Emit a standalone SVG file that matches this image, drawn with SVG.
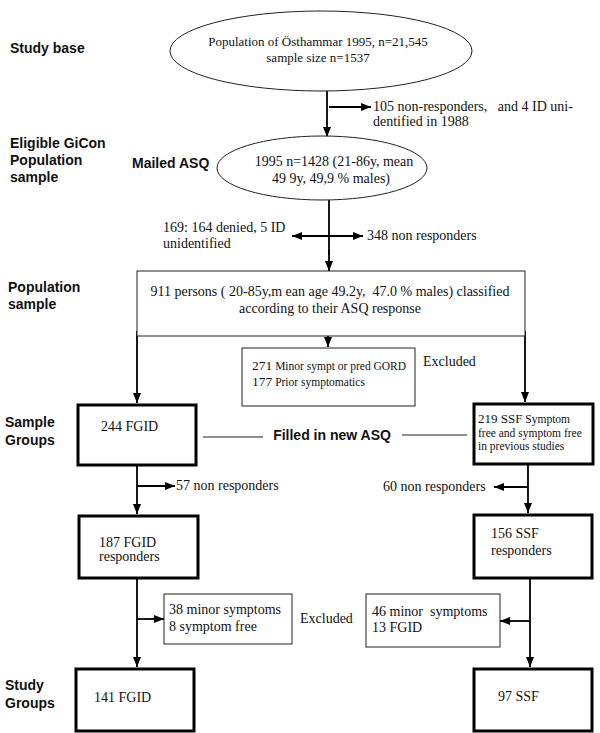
<svg xmlns="http://www.w3.org/2000/svg" width="600" height="733" viewBox="0 0 600 733">
<defs>
<marker id="ah" markerUnits="userSpaceOnUse" markerWidth="10" markerHeight="8" refX="10" refY="4" orient="auto">
<path d="M0,0 L10,4 L0,8 z" fill="#000"/>
</marker>
<style>
text{white-space:pre}
.lbl{font-family:"Liberation Sans",Arial,sans-serif;font-weight:bold;font-size:14px;fill:#111}
.t{font-family:"Liberation Serif","Times New Roman",serif;font-size:14px;fill:#111}
.e{font-family:"Liberation Serif","Times New Roman",serif;font-size:13px;fill:#111}
.s{font-family:"Liberation Serif","Times New Roman",serif;font-size:11.5px;fill:#111}
.thin{fill:#fff;stroke:#222;stroke-width:1}
.thick{fill:#fff;stroke:#000;stroke-width:3}
.c{stroke:#000;stroke-width:1.8;fill:none}
.ca{stroke:#000;stroke-width:1.8;fill:none;marker-end:url(#ah)}
.ln{stroke:#222;stroke-width:1;fill:none}
</style>
</defs>
<rect width="600" height="733" fill="#fff"/>

<g id="labels">
<text class="lbl" x="10" y="53">Study base</text>
<text class="lbl" x="10" y="148">Eligible GiCon</text>
<text class="lbl" x="10" y="165">Population</text>
<text class="lbl" x="10" y="182">sample</text>
<text class="lbl" x="132" y="168">Mailed ASQ</text>
<text class="lbl" x="8" y="292">Population</text>
<text class="lbl" x="8" y="309">sample</text>
<text class="lbl" x="5" y="427">Sample</text>
<text class="lbl" x="5" y="445">Groups</text>
<text class="lbl" x="5" y="690">Study</text>
<text class="lbl" x="5" y="708">Groups</text>
</g>

<g id="connectors">
<line class="ca" x1="327" y1="91" x2="327" y2="137"/>
<line class="ca" x1="329" y1="107" x2="371" y2="107"/>
<line class="c" x1="329" y1="200" x2="329" y2="255"/>
<line class="ca" x1="329" y1="236" x2="292" y2="236"/>
<line class="ca" x1="329" y1="236" x2="363" y2="236"/>
<line class="ca" x1="329" y1="250" x2="329" y2="271"/>
<line class="ca" x1="137" y1="331" x2="137" y2="403"/>
<line class="ca" x1="328" y1="336" x2="328" y2="347"/>
<line class="ca" x1="525" y1="331" x2="525" y2="402"/>
<line class="ln" x1="203" y1="437" x2="263" y2="437"/>
<line class="ln" x1="402" y1="435" x2="467" y2="435"/>
<line class="ca" x1="137" y1="465" x2="137" y2="514"/>
<line class="ca" x1="137" y1="486" x2="175" y2="486"/>
<line class="ca" x1="528" y1="464" x2="528" y2="513"/>
<line class="ca" x1="528" y1="487" x2="494" y2="487"/>
<line class="ca" x1="137" y1="578" x2="137" y2="667"/>
<line class="ca" x1="137" y1="619" x2="164" y2="619"/>
<line class="ca" x1="530" y1="578" x2="530" y2="667"/>
<line class="ca" x1="530" y1="621" x2="500" y2="621"/>
</g>

<g id="n-base">
<ellipse class="thin" cx="321" cy="51" rx="151" ry="40"/>
<text class="e" x="318" y="46" text-anchor="middle">Population of Östhammar 1995, n=21,545</text>
<text class="e" x="318" y="62" text-anchor="middle">sample size n=1537</text>
</g>

<g id="n-nonresp1">
<text class="t" x="373" y="111">105 non-responders,   and 4 ID uni-</text>
<text class="t" x="373" y="126">dentified in 1988</text>
</g>

<g id="n-mailed">
<ellipse class="thin" cx="322" cy="168" rx="105" ry="32"/>
<text class="t" x="334" y="166" text-anchor="middle">1995 n=1428 (21-86y, mean</text>
<text class="t" x="331" y="183" text-anchor="middle">49 9y, 49,9 % males)</text>
</g>

<g id="n-denied">
<text class="t" x="163" y="232">169: 164 denied, 5 ID</text>
<text class="t" x="163" y="248">unidentified</text>
</g>
<g id="n-nonresp2">
<text class="t" x="367" y="240">348 non responders</text>
</g>

<g id="n-pop">
<rect class="thin" x="137" y="271" width="388" height="65"/>
<text class="t" x="330" y="296" text-anchor="middle">911 persons ( 20-85y,m ean age 49.2y,  47.0 % males) classified</text>
<text class="t" x="330" y="313" text-anchor="middle">according to their ASQ response</text>
</g>

<g id="n-excl1">
<rect class="thin" x="242" y="348" width="173" height="58"/>
<text class="s" x="252" y="370"><tspan font-size="13.5">271</tspan> Minor sympt or pred GORD</text>
<text class="s" x="252" y="386"><tspan font-size="13.5">177</tspan> Prior symptomatics</text>
<text class="t" x="423" y="366">Excluded</text>
</g>

<g id="n-fgid244">
<rect class="thick" x="78" y="405" width="118" height="60"/>
<text class="t" x="101" y="431">244 FGID</text>
</g>

<g id="n-filled">
<text class="lbl" x="332" y="440" text-anchor="middle">Filled in new ASQ</text>
</g>

<g id="n-ssf219">
<rect class="thick" x="474" y="404" width="119" height="60"/>
<text class="s" x="478" y="423"><tspan font-size="13">219 SSF</tspan> Symptom</text>
<text class="s" x="478" y="437">free and symptom free</text>
<text class="s" x="478" y="450">in previous studies</text>
</g>

<g id="n-nonresp57">
<text class="t" x="176" y="490">57 non responders</text>
</g>
<g id="n-nonresp60">
<text class="t" x="383" y="491">60 non responders</text>
</g>

<g id="n-fgid187">
<rect class="thick" x="79" y="516" width="119" height="62"/>
<text class="t" x="99" y="547">187 FGID</text>
<text class="t" x="99" y="561">responders</text>
</g>

<g id="n-ssf156">
<rect class="thick" x="474" y="515" width="118" height="63"/>
<text class="t" x="491" y="538">156 SSF</text>
<text class="t" x="491" y="555">responders</text>
</g>

<g id="n-excl2">
<rect class="thin" x="164" y="594" width="128" height="50"/>
<text class="t" x="169" y="614">38 minor symptoms</text>
<text class="t" x="169" y="631">8 symptom free</text>
<text class="t" x="300" y="623">Excluded</text>
</g>

<g id="n-excl3">
<rect class="thin" x="366" y="594" width="134" height="53"/>
<text class="t" x="372" y="616">46 minor  symptoms</text>
<text class="t" x="372" y="632">13 FGID</text>
</g>

<g id="n-fgid141">
<rect class="thick" x="76" y="669" width="118" height="62"/>
<text class="t" x="94" y="702">141 FGID</text>
</g>

<g id="n-ssf97">
<rect class="thick" x="474" y="669" width="118" height="62"/>
<text class="t" x="498" y="701">97 SSF</text>
</g>
</svg>
